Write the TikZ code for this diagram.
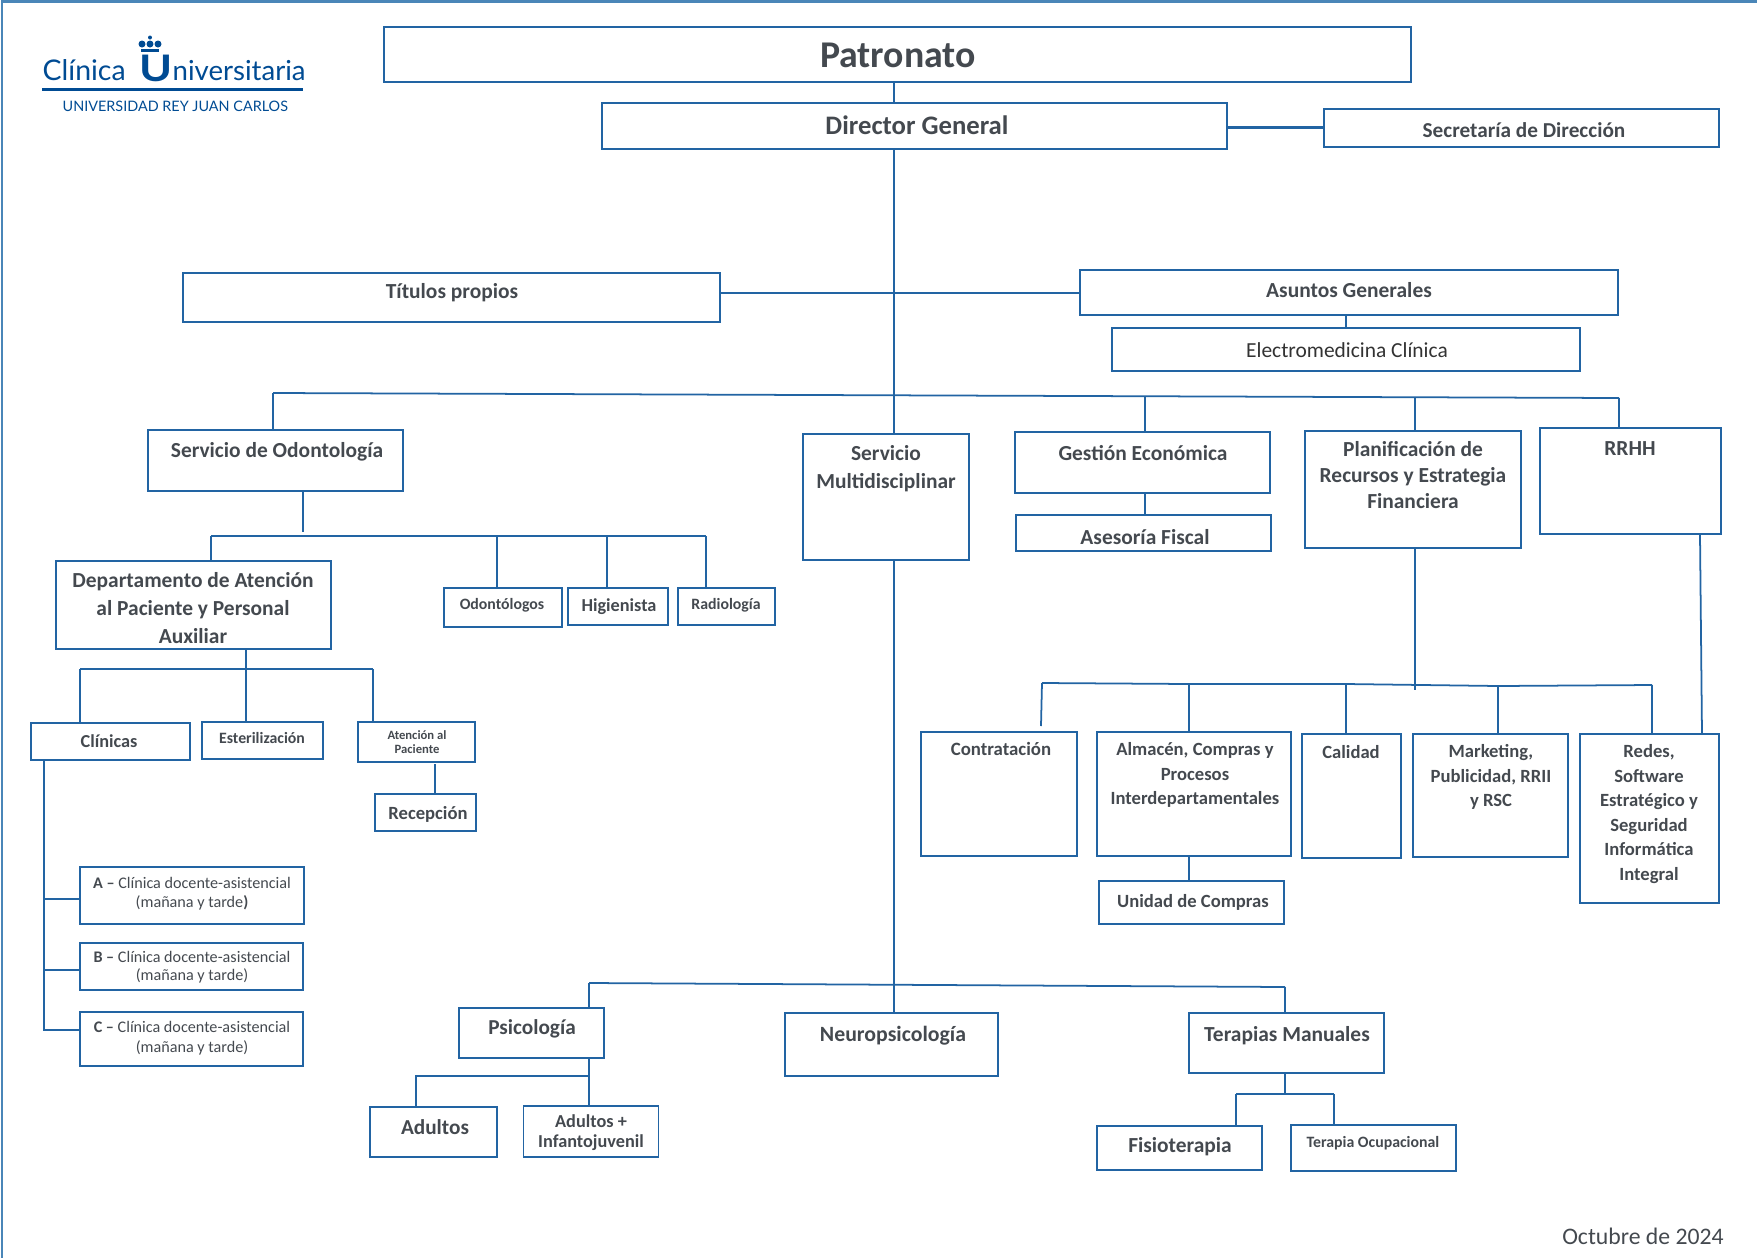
\documentclass[tikz,border=0pt]{standalone}
\usepackage{fontspec}
\setmainfont{Carlito}
\newfontfamily\logofont{Lato}
\definecolor{boxblue}{HTML}{2264A3}
\definecolor{framblue}{HTML}{4A86B8}
\definecolor{logoblue}{HTML}{004B93}
\definecolor{textgrey}{HTML}{44494F}
\tikzset{
  orgbox/.style 2 args={rectangle,draw=boxblue,line width=0.5pt,inner sep=0pt,outer sep=0pt,minimum width=#1cm,minimum height=#2cm},
  boldtext/.style 2 args={text=textgrey,inner sep=0pt,align=center,font=\fontsize{#1}{#2}\selectfont\bfseries},
  plaintext/.style 2 args={text=textgrey,inner sep=0pt,align=center,font=\fontsize{#1}{#2}\selectfont},
  logotext/.style={text=logoblue,inner sep=0pt,anchor=base west}
}
\tikzstyle{edge}=[draw=boxblue,line width=0.5pt]
\begin{document}
\begin{tikzpicture}[y=-1cm]
  \useasboundingbox (0,0) rectangle (17.57,12.58);
  \draw[framblue,line width=0.6pt] (0.02,12.58) -- (0.02,0.015) -- (17.57,0.015);

  % logo
  \node [logotext,font=\logofont\fontsize{8.1}{9}\selectfont] (clinica) at (0.42,0.80) {Clínica};
  \node [logotext,font=\logofont\bfseries\fontsize{10.4}{13}\selectfont] (bigu) at (1.39,0.81) {\scalebox{1.22}[1]{U}};
  \node [logotext,font=\logofont\fontsize{7.85}{9}\selectfont] (univ) at (1.72,0.80) {niversitaria};
  \fill[logoblue] (0.42,0.875) rectangle (3.03,0.905);
  \node [logotext,font=\logofont\fontsize{4.1}{5}\selectfont] (urjc) at (0.62,1.11) {UNIVERSIDAD REY JUAN CARLOS};
  \fill[logoblue] (1.42,0.44) circle (0.035) (1.50,0.44) circle (0.035) (1.58,0.44) circle (0.035) (1.50,0.375) circle (0.02);
  \fill[logoblue] (1.41,0.49) rectangle (1.59,0.52);

  % top of the chart
  \node [orgbox={10.27}{.55}] (patronato) at (8.975,0.545) {};
  \node [boldtext={10.75}{12}] (patronatotxt) at (8.98,0.55) {Patronato};
  \node [orgbox={6.25}{.46}] (director) at (9.145,1.26) {};
  \node [boldtext={7.6}{8}] (directortxt) at (9.17,1.25) {Director General};
  \node [orgbox={3.95}{.38}] (secretaria) at (15.215,1.28) {};
  \node [boldtext={6.05}{7}] (secretariatxt) at (15.24,1.30) {Secretaría de Dirección};
  \node [orgbox={5.37}{.49}] (titulos) at (4.515,2.975) {};
  \node [boldtext={6.1}{7}] (titulostxt) at (4.52,2.93) {Títulos propios};
  \node [orgbox={5.38}{.45}] (asuntos) at (13.49,2.925) {};
  \node [boldtext={6.1}{7}] (asuntostxt) at (13.49,2.90) {Asuntos Generales};
  \node [orgbox={4.68}{.43}] (electro) at (13.46,3.495) {};
  \node [plaintext={6.1}{7},text=black!80] (electrotxt) at (13.47,3.50) {Electromedicina Clínica};

  % services
  \node [orgbox={2.55}{.61}] (odonto) at (2.755,4.605) {};
  \node [boldtext={6.1}{7}] (odontotxt) at (2.77,4.52) {Servicio de Odontología};
  \node [orgbox={1.66}{1.26}] (multi) at (8.86,4.97) {};
  \node [boldtext={6.1}{8}] (multitxt) at (8.86,4.69) {Servicio\\Multidisciplinar};
  \node [orgbox={2.55}{.61}] (gestion) at (11.425,4.625) {};
  \node [boldtext={6.1}{7}] (gestiontxt) at (11.43,4.53) {Gestión Económica};
  \node [orgbox={2.55}{.36}] (asesoria) at (11.435,5.33) {};
  \node [boldtext={6.1}{7}] (asesoriatxt) at (11.45,5.37) {Asesoría Fiscal};
  \node [orgbox={2.16}{1.17}] (planif) at (14.13,4.895) {};
  \node [boldtext={6.1}{7.4}] (planiftxt) at (14.13,4.75) {Planificación de\\Recursos y Estrategia\\Financiera};
  \node [orgbox={1.81}{1.06}] (rrhh) at (16.305,4.81) {};
  \node [boldtext={6.1}{7}] (rrhhtxt) at (16.30,4.49) {RRHH};

  % dentistry
  \node [orgbox={2.75}{.88}] (depto) at (1.935,6.05) {};
  \node [boldtext={6.1}{8}] (deptotxt) at (1.93,6.08) {Departamento de Atención\\al Paciente y Personal\\Auxiliar};
  \node [orgbox={1.18}{.39}] (odontologos) at (5.03,6.075) {};
  \node [boldtext={4.5}{5}] (odontologostxt) at (5.02,6.05) {Odontólogos};
  \node [orgbox={1.0}{.37}] (higienista) at (6.18,6.065) {};
  \node [boldtext={5.2}{6}] (higienistatxt) at (6.19,6.07) {Higienista};
  \node [orgbox={.97}{.37}] (radiologia) at (7.265,6.065) {};
  \node [boldtext={4.5}{5}] (radiologiatxt) at (7.26,6.05) {Radiología};
  \node [orgbox={1.59}{.37}] (clinicas) at (1.105,7.415) {};
  \node [boldtext={5.2}{6}] (clinicastxt) at (1.09,7.41) {Clínicas};
  \node [orgbox={1.21}{.37}] (esteril) at (2.625,7.405) {};
  \node [boldtext={4.5}{5}] (esteriltxt) at (2.62,7.38) {Esterilización};
  \node [orgbox={1.17}{.40}] (atencion) at (4.165,7.42) {};
  \node [boldtext={3.6}{3.9}] (atenciontxt) at (4.17,7.42) {Atención al\\Paciente};
  \node [orgbox={1.01}{.37}] (recepcion) at (4.255,8.125) {};
  \node [boldtext={5.3}{6}] (recepciontxt) at (4.28,8.14) {Recepción};
  \node [orgbox={2.24}{.57}] (clina) at (1.92,8.955) {};
  \node [plaintext={4.6}{5.4}] (clinatxt) at (1.92,8.94) {\textbf{A –} Clínica docente-asistencial\\(mañana y tarde\textbf{)}};
  \node [orgbox={2.23}{.47}] (clinb) at (1.915,9.665) {};
  \node [plaintext={4.6}{5}] (clinbtxt) at (1.92,9.67) {\textbf{B –} Clínica docente-asistencial\\(mañana y tarde)};
  \node [orgbox={2.23}{.54}] (clinc) at (1.915,10.39) {};
  \node [plaintext={4.6}{5.6}] (clinctxt) at (1.92,10.38) {\textbf{C –} Clínica docente-asistencial\\(mañana y tarde)};

  % planning
  \node [orgbox={1.56}{1.24}] (contratacion) at (9.99,7.94) {};
  \node [boldtext={5.35}{6}] (contrataciontxt) at (10.01,7.49) {Contratación};
  \node [orgbox={1.94}{1.24}] (almacen) at (11.94,7.94) {};
  \node [boldtext={5.3}{7}] (almacentxt) at (11.95,7.75) {Almacén, Compras y\\Procesos\\Interdepartamentales};
  \node [orgbox={1.85}{.43}] (unidad) at (11.915,9.025) {};
  \node [boldtext={5.3}{6}] (unidadtxt) at (11.93,9.02) {Unidad de Compras};
  \node [orgbox={.99}{1.24}] (calidad) at (13.515,7.96) {};
  \node [boldtext={5.3}{6}] (calidadtxt) at (13.51,7.52) {Calidad};
  \node [orgbox={1.55}{1.23}] (marketing) at (14.905,7.955) {};
  \node [boldtext={5.3}{6.9}] (marketingtxt) at (14.91,7.77) {Marketing,\\Publicidad, RRII\\y RSC};
  \node [orgbox={1.39}{1.69}] (redes) at (16.495,8.185) {};
  \node [boldtext={5.3}{6.95}] (redestxt) at (16.49,8.14) {Redes,\\Software\\Estratégico y\\Seguridad\\Informática\\Integral};

  % lower branch
  \node [orgbox={1.45}{.5}] (psicologia) at (5.315,10.33) {};
  \node [boldtext={6.05}{7}] (psicologiatxt) at (5.32,10.29) {Psicología};
  \node [orgbox={2.13}{.63}] (neuro) at (8.915,10.445) {};
  \node [boldtext={6.2}{7}] (neurotxt) at (8.93,10.36) {Neuropsicología};
  \node [orgbox={1.95}{.6}] (terapias) at (12.865,10.43) {};
  \node [boldtext={6.1}{7}] (terapiastxt) at (12.87,10.36) {Terapias Manuales};
  \node [orgbox={1.27}{.5}] (adultos) at (4.335,11.32) {};
  \node [boldtext={6.05}{7}] (adultostxt) at (4.35,11.27) {Adultos};
  \node [orgbox={1.35}{.51}] (adultosinf) at (5.91,11.315) {};
  \node [boldtext={5.2}{5.7}] (adultosinftxt) at (5.91,11.33) {Adultos +\\Infantojuvenil};
  \node [orgbox={1.65}{.44}] (fisio) at (11.795,11.48) {};
  \node [boldtext={6.1}{7}] (fisiotxt) at (11.80,11.47) {Fisioterapia};
  \node [orgbox={1.65}{.46}] (ocupacional) at (13.735,11.48) {};
  \node [boldtext={4.5}{5}] (ocupacionaltxt) at (13.73,11.43) {Terapia Ocupacional};
  \node [plaintext={6.75}{7}] (fecha) at (16.43,12.36) {Octubre de 2024};

  % junctions
  \coordinate (trunk) at (8.94,3.955);
  \coordinate (busleft) at (2.73,3.93);
  \coordinate (busgestion) at (11.45,3.97);
  \coordinate (busplanif) at (14.15,3.97);
  \coordinate (busright) at (16.19,3.98);
  \coordinate (odostem) at (3.03,5.32);
  \coordinate (odoleft) at (2.11,5.36);
  \coordinate (odoa) at (4.97,5.36);
  \coordinate (odob) at (6.07,5.36);
  \coordinate (odoright) at (7.06,5.36);
  \coordinate (deptostem) at (2.46,6.69);
  \coordinate (deptoleft) at (0.80,6.69);
  \coordinate (deptoright) at (3.73,6.69);
  \coordinate (clinstem) at (0.44,10.30);
  \coordinate (planstem) at (14.15,6.90);
  \coordinate (planleft) at (10.42,6.83);
  \coordinate (planb) at (11.89,6.84);
  \coordinate (planc) at (13.46,6.84);
  \coordinate (pland) at (14.98,6.86);
  \coordinate (planright) at (16.52,6.85);
  \coordinate (lowmid) at (8.94,9.85);
  \coordinate (lowleft) at (5.89,9.83);
  \coordinate (lowright) at (12.85,9.87);
  \coordinate (psibar) at (5.89,10.76);
  \coordinate (psileft) at (4.16,10.76);
  \coordinate (terbar) at (12.85,10.94);
  \coordinate (terleft) at (12.36,10.94);
  \coordinate (terright) at (13.34,10.94);

  \path[edge] (patronato.south -| trunk) -- (director.north -| trunk);
  \path[edge] (director.south -| trunk) -- (trunk) -- (multi.north -| trunk);
  \path[edge,line width=0.85pt] (director.east |- 0,1.27) -- (secretaria.west |- 0,1.27);
  \path[edge] (titulos.east |- 0,2.93) -- (asuntos.west |- 0,2.93);
  \path[edge] (asuntos.south -| electro) -- (electro.north);
  \path[edge] (busleft) -- (busright);
  \path[edge] (busleft) -- (busleft |- odonto.north);
  \path[edge] (busgestion) -- (busgestion |- gestion.north);
  \path[edge] (busplanif) -- (busplanif |- planif.north);
  \path[edge] (busright) -- (busright |- rrhh.north);
  \path[edge] (multi.south -| trunk) -- (lowmid) -- (neuro.north -| trunk);
  \path[edge] (lowleft) -- (lowright);
  \path[edge] (lowleft) -- (lowleft |- psicologia.north);
  \path[edge] (lowright) -- (lowright |- terapias.north);

  \path[edge] (odonto.south -| odostem) -- (odostem);
  \path[edge] (odoleft) -- (odoright);
  \path[edge] (odoleft) -- (odoleft |- depto.north);
  \path[edge] (odoa) -- (odoa |- odontologos.north);
  \path[edge] (odob) -- (odob |- higienista.north);
  \path[edge] (odoright) -- (odoright |- radiologia.north);
  \path[edge] (gestion.south -| busgestion) -- (asesoria.north -| busgestion);

  \path[edge] (depto.south -| deptostem) -- (deptostem) -- (deptostem |- esteril.north);
  \path[edge] (deptoleft) -- (deptoright);
  \path[edge] (deptoleft) -- (deptoleft |- clinicas.north);
  \path[edge] (deptoright) -- (deptoright |- atencion.north);
  \path[edge] (4.35,7.64) -- (recepcion.north -| 4.35,0);
  \path[edge] (clinicas.south -| clinstem) -- (clinstem) -- (clinc.west |- clinstem);
  \path[edge] (clinstem |- 0,8.99) -- (clina.west |- 0,8.99);
  \path[edge] (clinstem |- 0,9.70) -- (clinb.west |- 0,9.70);

  \path[edge] (planif.south -| planstem) -- (planstem);
  \path[edge] (planleft) -- (planb) -- (planc) -- (pland) -- (planright);
  \path[edge] (planleft) -- (10.41,7.26);
  \path[edge] (planb) -- (planb |- almacen.north);
  \path[edge] (planc) -- (planc |- calidad.north);
  \path[edge] (pland) -- (pland |- marketing.north);
  \path[edge] (planright) -- (planright |- redes.north);
  \path[edge] (rrhh.south -| 17.00,0) -- (redes.north -| 17.02,0);
  \path[edge] (almacen.south -| planb) -- (unidad.north -| planb);

  \path[edge] (psicologia.south -| psibar) -- (psibar) -- (adultosinf.north -| psibar);
  \path[edge] (psibar) -- (psileft) -- (psileft |- adultos.north);
  \path[edge] (terapias.south -| terbar) -- (terbar);
  \path[edge] (terleft) -- (terright);
  \path[edge] (terleft) -- (terleft |- fisio.north);
  \path[edge] (terright) -- (terright |- ocupacional.north);
\end{tikzpicture}
\end{document}
